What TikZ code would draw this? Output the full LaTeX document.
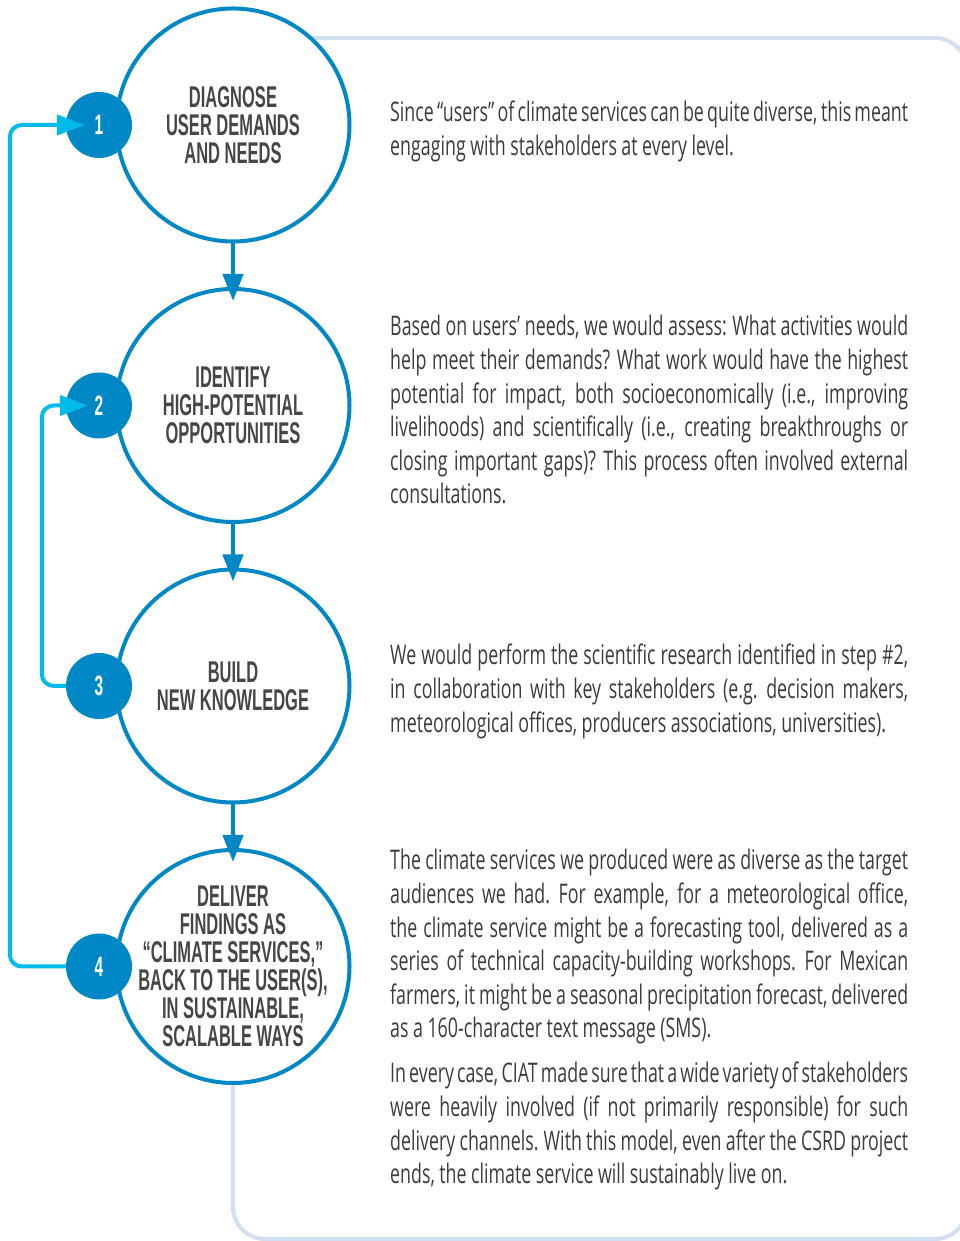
\documentclass[tikz,border=0pt]{standalone}
\usepackage{fontspec}
\setmainfont{Open Sans}[FakeStretch=0.66]
\newfontfamily\headfont{Liberation Sans}[FakeStretch=0.55]
\usetikzlibrary{positioning,arrows.meta,backgrounds}
\definecolor{stepblue}{RGB}{0,136,198}
\definecolor{loopcyan}{RGB}{0,187,234}
\definecolor{framegrey}{RGB}{211,222,240}
\definecolor{inkgrey}{RGB}{60,60,60}
\definecolor{headgrey}{RGB}{70,70,70}
% justified and last lines of the description column
\newcommand{\fullline}[1]{\makebox[518pt][s]{\spaceskip=4.5pt plus 1fil minus 2.5pt\xspaceskip=5.5pt plus 1fil minus 2.5pt\relax #1}\\}
\newcommand{\lastline}[1]{\makebox[518pt][l]{\spaceskip=4.5pt\xspaceskip=5.5pt\relax #1}}

\begin{document}
\begin{tikzpicture}[x=1pt,y=1pt,
	stepcircle/.style={circle,draw=stepblue,line width=4pt,fill=white,minimum size=233pt,inner sep=0pt},
	heading/.style={align=center,text=headgrey,font=\headfont\bfseries\fontsize{30}{28}\selectfont},
	badge/.style={circle,fill=stepblue,minimum size=66pt,inner sep=0pt,text=white,font=\headfont\bfseries\fontsize{28}{28}\selectfont},
	down/.style={stepblue,line width=4.5pt,-{Triangle[length=27pt,width=20pt]}},
	feedback/.style={loopcyan,line width=4pt,rounded corners=12pt,-{Triangle[length=28pt,width=20pt]}},
	body/.style={anchor=base west,inner sep=0pt,text width=518pt,text=inkgrey,font=\fontsize{27}{33.6}\selectfont}]
	\useasboundingbox (0,0) rectangle (959,1241);

	% steps
	\node[stepcircle] (s1) at (233,1116) {};
	\node[stepcircle,below=43.5pt of s1] (s2) {};
	\node[stepcircle,below=43.5pt of s2] (s3) {};
	\node[stepcircle,below=43.5pt of s3] (s4) {};
	\node[heading] (t1) at (s1) {DIAGNOSE\\USER DEMANDS\\AND NEEDS};
	\node[heading] (t2) at (s2) {IDENTIFY\\HIGH-POTENTIAL\\OPPORTUNITIES};
	\node[heading] (t3) at (s3) {BUILD\\NEW KNOWLEDGE};
	\node[heading] (t4) at (s4) {DELIVER\\FINDINGS AS\\“CLIMATE SERVICES,”\\BACK TO THE USER(S),\\IN SUSTAINABLE,\\SCALABLE WAYS};
	\foreach \n in {1,...,4}
		\node[badge] (b\n) at ([xshift=-134pt]s\n.center) {\n};

	% frame behind the circles
	\begin{scope}[on background layer]
		\draw[framegrey,line width=4pt,rounded corners=32pt] (s4.center) -- (s4.center |- 0,2) -- (967,2) -- (967,1203) -- (s1.center |- 0,1203);
	\end{scope}

	% arrows
	\foreach \a/\b in {s1/s2,s2/s3,s3/s4}
		\draw[down] (\a.south) -- ([yshift=-14pt]\b.north);
	\draw[feedback] (b4.west) -- ++(-56,0) |- ([xshift=19pt]b1.west);
	\draw[feedback] (b3.west) -- ++(-24,0) |- ([xshift=22pt]b2.west);

	% descriptions
	\node[body] (d1) at (390,1119) {\fullline{Since “users” of climate services can be quite diverse, this meant}
		\lastline{engaging with stakeholders at every level.}};
	\node[body] (d2) at (390,905) {\fullline{Based on users’ needs, we would assess: What activities would}
		\fullline{help meet their demands? What work would have the highest}
		\fullline{potential for impact, both socioeconomically (i.e., improving}
		\fullline{livelihoods) and scientifically (i.e., creating breakthroughs or}
		\fullline{closing important gaps)? This process often involved external}
		\lastline{consultations.}};
	\node[body] (d3) at (390,576) {\fullline{We would perform the scientific research identified in step \#2,}
		\fullline{in collaboration with key stakeholders (e.g. decision makers,}
		\lastline{meteorological offices, producers associations, universities).}};
	\node[body] (d4) at (390,371) {\fullline{The climate services we produced were as diverse as the target}
		\fullline{audiences we had. For example, for a meteorological office,}
		\fullline{the climate service might be a forecasting tool, delivered as a}
		\fullline{series of technical capacity-building workshops. For Mexican}
		\fullline{farmers, it might be a seasonal precipitation forecast, delivered}
		\lastline{as a 160-character text message (SMS).}};
	\node[body] (d5) at (390,158) {\fullline{In every case, CIAT made sure that a wide variety of stakeholders}
		\fullline{were heavily involved (if not primarily responsible) for such}
		\fullline{delivery channels. With this model, even after the CSRD project}
		\lastline{ends, the climate service will sustainably live on.}};
\end{tikzpicture}
\end{document}
